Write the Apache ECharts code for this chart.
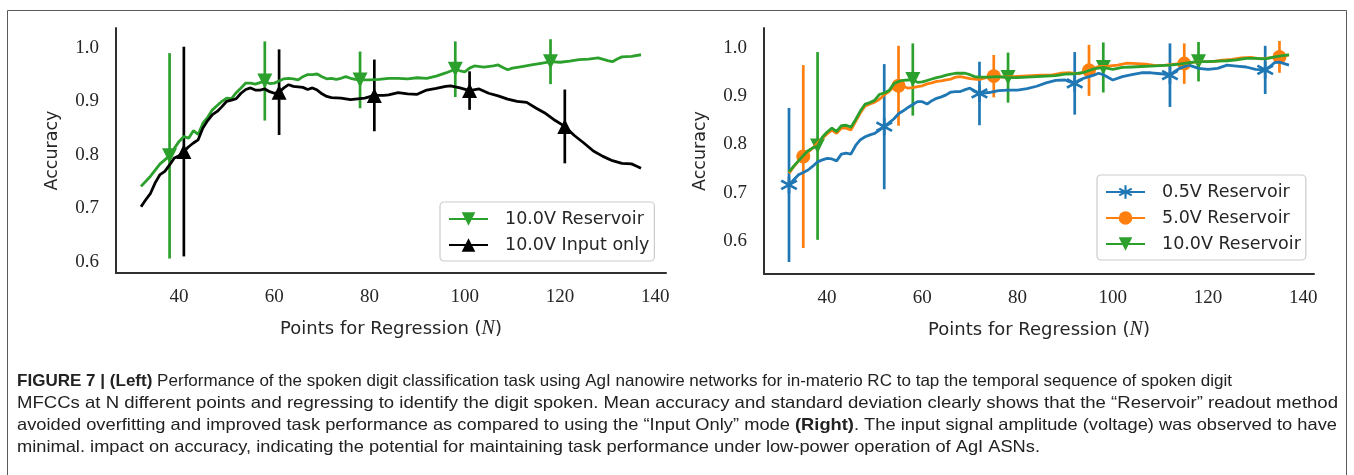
<!DOCTYPE html>
<html>
<head>
<meta charset="utf-8">
<script src="https://cdn.jsdelivr.net/npm/echarts@6/dist/echarts.min.js"></script>
<style>
html,body{margin:0;padding:0;background:#fff;}
#c{width:1354px;height:475px;}
</style>
</head>
<body>
<div id="c"></div>
<script>
// ---------- tick labels ----------
const xTicks = [40, 60, 80, 100, 120, 140];
const yTicks = [0.6, 0.7, 0.8, 0.9, 1.0];

// ---------- LEFT panel: 10.0V Reservoir (green) ----------
const leftResN   = [32,34,36,38,39,40,41,42,43,44,45,46,47,48,49,50,51,52,53,54,55,56,57,58,59,60,61,62,63,64,65,66,67,68,69,70,71,72,73,74,75,76,77,78,80,82,84,86,88,90,92,94,96,98,99,100,101,102,104,106,107,108,109,110,112,114,116,118,120,122,124,126,128,130,131,132,133,135,137];
const leftResAcc = [0.741,0.760,0.783,0.798,0.812,0.825,0.834,0.831,0.845,0.838,0.859,0.870,0.884,0.892,0.900,0.906,0.905,0.916,0.925,0.934,0.934,0.932,0.935,0.938,0.933,0.934,0.938,0.942,0.943,0.942,0.940,0.946,0.950,0.950,0.951,0.946,0.942,0.943,0.941,0.943,0.946,0.943,0.941,0.940,0.940,0.941,0.943,0.943,0.942,0.944,0.943,0.947,0.953,0.960,0.957,0.955,0.962,0.966,0.964,0.966,0.968,0.963,0.959,0.962,0.965,0.968,0.971,0.974,0.973,0.975,0.978,0.979,0.981,0.976,0.974,0.979,0.983,0.984,0.987];
const leftResMarkN    = [38, 58, 78, 98, 118];
const leftResMarkMean = [0.798, 0.938, 0.940, 0.960, 0.974];
const leftResMarkStd  = [0.192, 0.074, 0.053, 0.052, 0.042];

// ---------- LEFT panel: 10.0V Input only (black) ----------
const leftInpN   = [32,33,34,35,36,37,38,39,40,41,42,43,44,45,46,47,48,49,50,51,52,53,54,55,56,57,58,59,60,61,62,63,64,65,66,67,68,69,70,71,72,74,76,78,79,81,83,84,86,88,90,92,94,96,97,98,99,101,103,105,107,109,111,113,115,117,119,121,123,125,127,129,131,133,135,136,137];
const leftInpAcc = [0.703,0.716,0.728,0.748,0.763,0.769,0.781,0.794,0.798,0.806,0.815,0.822,0.828,0.850,0.864,0.875,0.881,0.890,0.900,0.902,0.905,0.915,0.922,0.925,0.921,0.921,0.923,0.918,0.915,0.917,0.925,0.931,0.928,0.927,0.926,0.922,0.925,0.921,0.914,0.909,0.907,0.906,0.903,0.905,0.906,0.911,0.911,0.912,0.916,0.914,0.913,0.921,0.924,0.928,0.929,0.927,0.925,0.920,0.923,0.915,0.910,0.904,0.900,0.898,0.887,0.877,0.864,0.853,0.836,0.822,0.807,0.797,0.789,0.784,0.783,0.779,0.775];
const leftInpMarkN    = [41, 61, 81, 101, 121];
const leftInpMarkMean = [0.806, 0.917, 0.911, 0.920, 0.853];
const leftInpMarkStd  = [0.196, 0.080, 0.067, 0.036, 0.069];

// ---------- RIGHT panel: 0.5V Reservoir (blue) ----------
const r05N   = [32,33,34,35,36,37,38,39,40,41,42,43,44,45,46,47,48,49,50,51,52,53,54,55,56,57,58,59,60,61,62,63,64,65,66,67,68,69,70,71,72,74,76,78,80,82,84,86,88,90,91,92,93,94,96,97,98,100,102,104,106,108,110,112,113,114,116,118,120,122,124,126,128,130,132,133,134,135,136,137];
const r05Acc = [0.716,0.727,0.737,0.742,0.747,0.755,0.764,0.768,0.771,0.770,0.766,0.780,0.782,0.780,0.798,0.810,0.816,0.820,0.823,0.830,0.837,0.845,0.853,0.864,0.870,0.877,0.883,0.889,0.889,0.884,0.891,0.896,0.899,0.903,0.909,0.910,0.910,0.914,0.917,0.910,0.906,0.908,0.912,0.913,0.913,0.916,0.921,0.928,0.933,0.934,0.930,0.927,0.934,0.938,0.944,0.948,0.945,0.934,0.941,0.945,0.949,0.949,0.947,0.944,0.952,0.958,0.965,0.958,0.956,0.958,0.965,0.963,0.961,0.956,0.955,0.962,0.970,0.971,0.968,0.965];
const r05MarkN    = [32, 52, 72, 92, 112, 132];
const r05MarkMean = [0.716, 0.837, 0.906, 0.927, 0.944, 0.955];
const r05MarkStd  = [0.160, 0.130, 0.066, 0.065, 0.066, 0.050];

// ---------- RIGHT panel: 5.0V Reservoir (orange) ----------
const r50N   = [32,33,34,35,36,37,38,39,40,41,42,43,44,45,46,47,48,49,50,51,52,53,54,55,56,57,58,59,60,61,62,63,64,65,66,67,68,69,70,71,72,73,75,77,79,81,83,85,87,89,91,93,95,97,99,101,103,105,107,109,111,113,115,117,119,121,123,125,127,129,131,133,135,137];
const r50Acc = [0.740,0.754,0.766,0.775,0.784,0.793,0.803,0.813,0.822,0.830,0.823,0.834,0.834,0.830,0.848,0.866,0.880,0.884,0.888,0.894,0.903,0.910,0.920,0.922,0.921,0.917,0.918,0.920,0.922,0.926,0.928,0.931,0.932,0.934,0.936,0.940,0.941,0.939,0.937,0.936,0.935,0.938,0.942,0.940,0.941,0.942,0.943,0.944,0.944,0.948,0.949,0.947,0.954,0.962,0.963,0.965,0.969,0.968,0.967,0.964,0.965,0.967,0.968,0.971,0.972,0.972,0.975,0.977,0.980,0.981,0.978,0.980,0.982,0.986];
const r50MarkN    = [35, 55, 75, 95, 115, 135];
const r50MarkMean = [0.775, 0.922, 0.942, 0.954, 0.968, 0.982];
const r50MarkStd  = [0.190, 0.083, 0.044, 0.053, 0.042, 0.033];

// ---------- RIGHT panel: 10.0V Reservoir (green) ----------
const r10N   = [32,33,34,35,36,37,38,39,40,41,42,43,44,45,46,47,48,49,50,51,52,53,54,55,56,57,58,59,60,61,62,63,64,65,66,67,68,69,70,71,72,74,76,78,80,82,84,86,88,90,92,94,96,98,99,100,102,104,106,108,110,112,114,116,118,120,122,124,126,128,130,132,134,136,137];
const r10Acc = [0.743,0.755,0.766,0.777,0.787,0.793,0.797,0.815,0.826,0.834,0.827,0.839,0.840,0.836,0.852,0.870,0.884,0.887,0.892,0.904,0.907,0.912,0.926,0.931,0.933,0.934,0.935,0.929,0.930,0.933,0.936,0.939,0.941,0.944,0.946,0.948,0.948,0.948,0.945,0.941,0.940,0.940,0.941,0.939,0.939,0.940,0.941,0.942,0.943,0.946,0.947,0.950,0.957,0.960,0.958,0.956,0.960,0.961,0.962,0.963,0.964,0.965,0.967,0.970,0.972,0.972,0.973,0.974,0.976,0.979,0.979,0.978,0.982,0.985,0.986];
const r10MarkN    = [38, 58, 78, 98, 118];
const r10MarkMean = [0.797, 0.935, 0.939, 0.960, 0.972];
const r10MarkStd  = [0.195, 0.075, 0.052, 0.052, 0.041];

// ---------- caption (segments: [text, bold]) ----------
const captionLines = [
  [['FIGURE 7 | (Left)', true], [' Performance of the spoken digit classification task using AgI nanowire networks for in-materio RC to tap the temporal sequence of spoken digit', false]],
  [['MFCCs at N different points and regressing to identify the digit spoken. Mean accuracy and standard deviation clearly shows that the “Reservoir” readout method', false]],
  [['avoided overfitting and improved task performance as compared to using the “Input Only” mode ', false], ['(Right)', true], ['. The input signal amplitude (voltage) was observed to have', false]],
  [['minimal. impact on accuracy, indicating the potential for maintaining task performance under low-power operation of AgI ASNs.', false]]
];
const captionEndX = [1232, 1338, 1337, 1040];

// ---------- styles ----------
const GREEN = '#2ca02c', BLACK = '#000000', BLUE = '#1f77b4', ORANGE = '#ff7f0e';
const TXT = '#262626';
const TRI_DOWN = 'path://M0,0L20,0L10,20Z';
const TRI_UP = 'path://M10,0L20,20L0,20Z';
const STAR = 'path://M8.5,0L11.5,0L11.5,20L8.5,20ZM17.91,3.7L19.41,6.3L2.09,16.3L0.59,13.7ZM0.59,6.3L2.09,3.7L19.41,13.7L17.91,16.3Z';

function lineS(name, N, acc, color, symbol, g) {
  return {
    type: 'line', name: name, xAxisIndex: g, yAxisIndex: g,
    data: N.map((n, i) => [n, acc[i]]),
    showSymbol: false, symbol: symbol, symbolSize: 14,
    lineStyle: { color: color, width: 2.8 }, itemStyle: { color: color },
    emphasis: { disabled: true }, silent: true
  };
}
function errS(name, N, m, s, color, g) {
  return {
    type: 'custom', name: name + ' err', xAxisIndex: g, yAxisIndex: g,
    data: N.map((n, i) => [n, m[i], s[i]]),
    encode: { x: 0, y: 1 }, silent: true,
    renderItem: function (params, api) {
      const x = api.value(0), mu = api.value(1), sd = api.value(2);
      const p1 = api.coord([x, mu - sd]);
      const p2 = api.coord([x, mu + sd]);
      return { type: 'line', shape: { x1: p1[0], y1: p1[1], x2: p2[0], y2: p2[1] },
               style: { stroke: color, lineWidth: 2.7 } };
    }
  };
}
function markS(name, N, m, color, symbol, size, g) {
  return {
    type: 'scatter', name: name + ' mark', xAxisIndex: g, yAxisIndex: g,
    data: N.map((n, i) => [n, m[i]]),
    symbol: symbol, symbolSize: size, itemStyle: { color: color, opacity: 1 },
    emphasis: { disabled: true }, silent: true
  };
}
function mkX(g, min, max) {
  return {
    type: 'value', gridIndex: g, min: min, max: max,
    splitLine: { show: false }, axisTick: { show: false },
    axisLine: { show: true, onZero: false, lineStyle: { color: '#303030', width: 2 } },
    axisLabel: { customValues: xTicks, formatter: v => String(v), fontFamily: 'Liberation Serif', fontSize: 19, color: TXT, margin: 15 },
    name: 'Points for Regression ({n|N})', nameLocation: 'middle', nameGap: 46,
    nameTextStyle: { fontFamily: 'DejaVu Sans', fontSize: 18, color: TXT,
      rich: { n: { fontFamily: 'Liberation Serif', fontStyle: 'italic', fontSize: 20, color: TXT } } }
  };
}
function mkY(g, min, max) {
  return {
    type: 'value', gridIndex: g, min: min, max: max,
    splitLine: { show: false }, axisTick: { show: false },
    axisLine: { show: true, onZero: false, lineStyle: { color: '#303030', width: 2 } },
    axisLabel: { customValues: yTicks, formatter: v => v.toFixed(1), fontFamily: 'Liberation Serif', fontSize: 19, color: TXT, margin: 17 },
    name: 'Accuracy', nameLocation: 'middle', nameGap: 55, nameRotate: 90,
    nameTextStyle: { fontFamily: 'DejaVu Sans', fontSize: 17.5, color: TXT }
  };
}
function mkLegend(left, top, names) {
  return {
    left: left, top: top, orient: 'vertical', data: names,
    itemWidth: 39, itemHeight: 17, itemGap: 8, padding: [8, 5, 7, 8],
    borderColor: '#cccccc', borderWidth: 1.2, borderRadius: 4,
    backgroundColor: 'rgba(255,255,255,0.8)', selectedMode: false,
    formatter: name => '{s| }' + name,
    textStyle: { fontFamily: 'DejaVu Sans', fontSize: 17.5, color: TXT, rich: { s: { width: 12 } } }
  };
}

// caption layout: measure each line and stretch it to the reference line end
const CAP_FS = 16.5, CAP_X = 17;
const mctx = document.createElement('canvas').getContext('2d');
function capWidth(segs) {
  let w = 0;
  segs.forEach(s => { mctx.font = (s[1] ? 'bold ' : '') + CAP_FS + 'px "Liberation Sans"'; w += mctx.measureText(s[0]).width; });
  return w;
}
function capRich(segs) {
  return segs.map(s => s[1] ? '{b|' + s[0] + '}' : s[0]).join('');
}

const chart = echarts.init(document.getElementById('c'), null, { renderer: 'canvas', width: 1354, height: 475 });
const option = {
  animation: false,
  backgroundColor: '#ffffff',
  grid: [
    { left: 116, top: 28, width: 550, height: 245, outerBoundsMode: 'none', containLabel: false },
    { left: 764, top: 28, width: 550, height: 246, outerBoundsMode: 'none', containLabel: false }
  ],
  xAxis: [mkX(0, 26.75, 142.25), mkX(1, 26.75, 142.25)],
  yAxis: [mkY(0, 0.579, 1.037), mkY(1, 0.531, 1.042)],
  legend: [
    mkLegend(440, 202, ['10.0V Reservoir', '10.0V Input only']),
    mkLegend(1097, 175, ['0.5V Reservoir', '5.0V Reservoir', '10.0V Reservoir'])
  ],
  tooltip: { show: false },
  series: [
    lineS('10.0V Reservoir', leftResN, leftResAcc, GREEN, TRI_DOWN, 0),
    errS('10.0V Reservoir L', leftResMarkN, leftResMarkMean, leftResMarkStd, GREEN, 0),
    markS('10.0V Reservoir L', leftResMarkN, leftResMarkMean, GREEN, TRI_DOWN, 15, 0),
    lineS('10.0V Input only', leftInpN, leftInpAcc, BLACK, TRI_UP, 0),
    errS('10.0V Input only', leftInpMarkN, leftInpMarkMean, leftInpMarkStd, BLACK, 0),
    markS('10.0V Input only', leftInpMarkN, leftInpMarkMean, BLACK, TRI_UP, 15, 0),

    lineS('0.5V Reservoir', r05N, r05Acc, BLUE, STAR, 1),
    errS('0.5V Reservoir', r05MarkN, r05MarkMean, r05MarkStd, BLUE, 1),
    markS('0.5V Reservoir', r05MarkN, r05MarkMean, BLUE, STAR, 17, 1),
    lineS('5.0V Reservoir', r50N, r50Acc, ORANGE, 'circle', 1),
    errS('5.0V Reservoir', r50MarkN, r50MarkMean, r50MarkStd, ORANGE, 1),
    markS('5.0V Reservoir', r50MarkN, r50MarkMean, ORANGE, 'circle', 14, 1),
    lineS('10.0V Reservoir', r10N, r10Acc, GREEN, TRI_DOWN, 1),
    errS('10.0V Reservoir R', r10MarkN, r10MarkMean, r10MarkStd, GREEN, 1),
    markS('10.0V Reservoir R', r10MarkN, r10MarkMean, GREEN, TRI_DOWN, 15, 1)
  ],
  graphic: [
    { type: 'rect', shape: { x: 7.5, y: 10.5, width: 1339, height: 480 },
      style: { fill: 'none', stroke: '#5a5a5a', lineWidth: 1 }, silent: true, z: -1 }
  ].concat(captionLines.map((segs, i) => ({
    type: 'text', x: CAP_X, y: 381 + i * 22, silent: true,
    scaleX: (captionEndX[i] - CAP_X) / capWidth(segs),
    style: { text: capRich(segs), fill: '#222222', font: CAP_FS + 'px "Liberation Sans"', verticalAlign: 'middle', align: 'left',
      rich: { b: { fontWeight: 'bold', fontFamily: 'Liberation Sans', fontSize: CAP_FS, fill: '#222222' } } }
  })))
};
chart.setOption(option);
</script>
</body>
</html>
